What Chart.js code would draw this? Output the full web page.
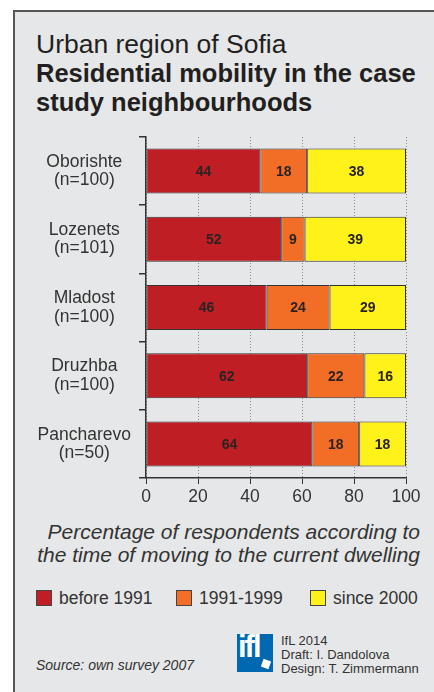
<!DOCTYPE html>
<html>
<head>
<meta charset="utf-8">
<script src="https://cdn.jsdelivr.net/npm/chart.js@4.4.1/dist/chart.umd.min.js"></script>
<style>
  body { margin: 0; background: #fff; font-family: "Liberation Sans", Arial, sans-serif; color: #231f20; }
  #panel { position: absolute; left: 13px; top: 10px; width: 440px; height: 700px; background: #e6e7e8; border-left: 2px solid #555; border-top: 2px solid #555; }
  #title { position: absolute; left: 36px; top: 30px; font-size: 26.5px; line-height: 29px; }
  #title b { font-weight: bold; font-size: 25.5px; }
  #chart { position: absolute; left: 0; top: 130px; }
  #axisTitle { position: absolute; right: 14px; top: 520px; font-size: 21px; line-height: 23px; font-style: italic; text-align: right; color: #333; }
  #legend { position: absolute; left: 36px; top: 588px; font-size: 17.5px; color: #333; }
  #legend span.item { position: absolute; white-space: nowrap; top: 0; }
  #legend i { display: inline-block; width: 14px; height: 14px; border: 1px solid #444; vertical-align: -2px; margin-right: 7px; }
  #source { position: absolute; left: 36px; top: 657px; font-size: 14px; font-style: italic; color: #333; }
  #logo { position: absolute; left: 237px; top: 634px; width: 36px; height: 38px; background: #0067b1; color: #fff; font-weight: bold; overflow: hidden; }
  #logo span { position: absolute; left: 1px; top: -4px; font-size: 31px; line-height: 34px; letter-spacing: -2px; }
  #logo em { position: absolute; left: 25px; top: 26px; width: 8px; height: 8px; background: #fff; transform: rotate(20deg); }
  #credits { position: absolute; left: 281px; top: 634px; font-size: 13px; line-height: 14px; color: #333; }
</style>
</head>
<body>
<div id="panel"></div>
<div id="title">Urban region of Sofia<br><b>Residential mobility in the case<br>study neighbourhoods</b></div>
<canvas id="chart" width="434" height="380"></canvas>
<div id="axisTitle">Percentage of respondents according to<br>the time of moving to the current dwelling</div>
<div id="legend"></div>
<div id="logo"><span>ifl</span><em></em></div>
<div id="credits">IfL 2014<br>Draft: I. Dandolova<br>Design: T. Zimmermann</div>
<div id="source">Source: own survey 2007</div>
<script>
// データ（Mladostの棒は100%まで伸びている）
var Areas = [["Oborishte", "(n=100)"], ["Lozenets", "(n=101)"], ["Mladost", "(n=100)"], ["Druzhba", "(n=100)"], ["Pancharevo", "(n=50)"]];
var Before1991 = [44, 52, 46.4, 62, 64];
var From1991to1999 = [18, 9, 24.2, 22, 18];
var Since2000 = [38, 39, 29.4, 16, 18];
var SeriesNames = ["before 1991", "1991-1999", "since 2000"];
var SeriesColors = ["#be1e24", "#f26e26", "#fff11a"];
var XTicks = [0, 20, 40, 60, 80, 100];

var font = '"Liberation Sans", Arial, sans-serif';

// 凡例
var legendX = [0, 140, 274];
var legend = document.getElementById("legend");
SeriesNames.forEach(function (name, i) {
  var s = document.createElement("span");
  s.className = "item";
  s.style.left = legendX[i] + "px";
  s.innerHTML = '<i style="background:' + SeriesColors[i] + '"></i>' + name;
  legend.appendChild(s);
});

// 値ラベル
var valueLabels = {
  id: "valueLabels",
  afterDatasetsDraw: function (chart) {
    var ctx = chart.ctx;
    ctx.save();
    ctx.font = "bold 14px " + font;
    ctx.fillStyle = "#2a2323";
    ctx.textAlign = "center";
    ctx.textBaseline = "middle";
    chart.data.datasets.forEach(function (ds, i) {
      chart.getDatasetMeta(i).data.forEach(function (bar, j) {
        var p = bar.getCenterPoint();
        ctx.fillText(Math.round(ds.data[j]), p.x, p.y + 1);
      });
    });
    ctx.restore();
  }
};

var ctx = document.getElementById("chart").getContext("2d");
new Chart(ctx, {
  type: "bar",
  data: {
    labels: Areas,
    datasets: [
      { label: SeriesNames[0], data: Before1991, backgroundColor: SeriesColors[0] },
      { label: SeriesNames[1], data: From1991to1999, backgroundColor: SeriesColors[1] },
      { label: SeriesNames[2], data: Since2000, backgroundColor: SeriesColors[2] }
    ].map(function (d) {
      d.borderColor = "#333";
      d.borderWidth = 1;
      d.borderSkipped = false;
      d.barPercentage = 0.66;
      d.categoryPercentage = 1;
      return d;
    })
  },
  options: {
    indexAxis: "y",
    responsive: false,
    animation: false,
    layout: { padding: { top: 7, right: 28, bottom: 0, left: 0 } },
    plugins: { legend: { display: false }, tooltip: { enabled: false } },
    scales: {
      x: {
        stacked: true,
        min: 0,
        max: 100,
        afterBuildTicks: function (scale) {
          scale.ticks = XTicks.map(function (v) { return { value: v }; });
        },
        afterFit: function (scale) { scale.height = 32; scale.paddingLeft = 0; scale.paddingRight = 0; },
        grid: { color: "#8a8a8a", tickColor: "#333", tickBorderDash: [], tickLength: 6, lineWidth: 1 },
        border: { display: true, color: "#333", width: 1.5, dash: [1, 2] },
        ticks: { color: "#333", font: { family: font, size: 17.5 }, padding: 3 }
      },
      y: {
        stacked: true,
        afterFit: function (scale) { scale.width = 146; scale.paddingTop = 0; scale.paddingBottom = 0; },
        grid: { drawOnChartArea: false, offset: true, tickLength: 7, color: "#333", lineWidth: 1.5 },
        border: { display: true, color: "#333", width: 1.5 },
        ticks: { color: "#333", crossAlign: "center", padding: 8, font: { family: font, size: 17.5, lineHeight: 1.05 } }
      }
    }
  },
  plugins: [valueLabels]
});
</script>
</body>
</html>
